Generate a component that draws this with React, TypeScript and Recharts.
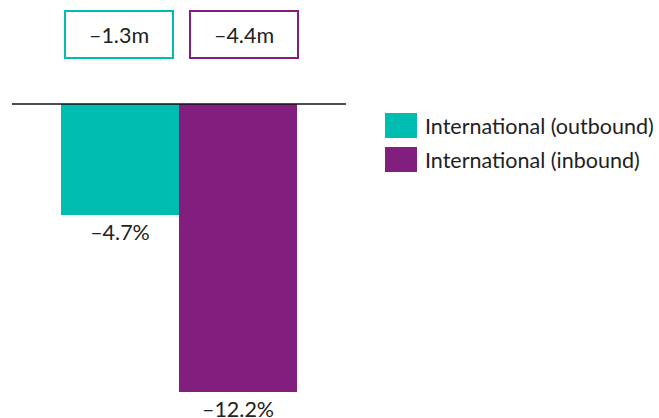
import { BarChart, Bar, XAxis, YAxis, ReferenceLine, LabelList, Legend } from "recharts"

const categories = ["2020"]
const outboundPct = [-4.7]
const inboundPct = [-12.2]
const volumeLabels = ["–1.3m", "–4.4m"]
const seriesNames = ["International (outbound)", "International (inbound)"]

const TEAL = "#00bdb2"
const PURPLE = "#821e7d"
const FONT = "Lato, 'Open Sans', sans-serif"
const FS = 21.5

const data = categories.map((c, i) => ({
  name: c,
  outbound: outboundPct[i],
  inbound: inboundPct[i],
}))

const fmtPct = (v: number) => (v < 0 ? "–" : "") + Math.abs(v).toFixed(1) + "%"

function makeBottomLabel() {
  return (props: any) => {
    const { x, y, width, height, value } = props
    const bottom = Math.max(y, y + height)
    return (
      <text
        x={x + width / 2}
        y={bottom + 17}
        textAnchor="middle"
        dominantBaseline="central"
        fontSize={FS}
        fontFamily={FONT}
        fill="#222"
      >
        {fmtPct(value)}
      </text>
    )
  }
}

function makeBox(label: string, color: string, dx: number) {
  return (props: any) => {
    const { x, width } = props
    const cx = x + width / 2 + dx
    return (
      <g>
        <rect x={cx - 54} y={11} width={108} height={47} fill="#fff" stroke={color} strokeWidth={2} />
        <text
          x={cx}
          y={35}
          textAnchor="middle"
          dominantBaseline="central"
          fontSize={FS}
          fontFamily={FONT}
          fill="#222"
        >
          {label}
        </text>
      </g>
    )
  }
}

function LegendBox() {
  const colors = [TEAL, PURPLE]
  return (
    <div style={{ fontFamily: FONT, fontSize: FS, color: "#222" }}>
      {seriesNames.map((n, i) => (
        <div key={n} style={{ display: "flex", alignItems: "center", height: 25, marginBottom: 9 }}>
          <div style={{ width: 32, height: 25, background: colors[i], marginRight: 8, flexShrink: 0 }} />
          <span style={{ whiteSpace: "nowrap" }}>{n}</span>
        </div>
      ))}
    </div>
  )
}

export default function App() {
  return (
    <div style={{ position: "absolute", left: 0, top: 0, width: 659, height: 418, background: "#fff" }}>
      <BarChart
        width={659}
        height={418}
        data={data}
        margin={{ top: 104, right: 313, left: 12, bottom: 7 }}
        barGap={0}
      >
        <XAxis dataKey="name" hide />
        <YAxis domain={[-13, 0]} hide />
        <Legend
          layout="vertical"
          verticalAlign="middle"
          align="center"
          content={<LegendBox />}
          wrapperStyle={{ left: 385, top: 113, width: 270 }}
        />
        <Bar dataKey="outbound" fill={TEAL} barSize={118} isAnimationActive={false}>
          <LabelList dataKey="outbound" content={makeBottomLabel()} />
          <LabelList dataKey="outbound" content={makeBox(volumeLabels[0], TEAL, -1)} />
        </Bar>
        <Bar dataKey="inbound" fill={PURPLE} barSize={118} isAnimationActive={false}>
          <LabelList dataKey="inbound" content={makeBottomLabel()} />
          <LabelList dataKey="inbound" content={makeBox(volumeLabels[1], PURPLE, 6)} />
        </Bar>
        <ReferenceLine y={0} stroke="#111" strokeWidth={1.5} />
      </BarChart>
    </div>
  )
}
